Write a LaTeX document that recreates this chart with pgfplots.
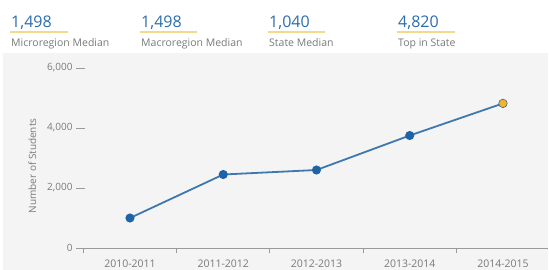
\documentclass[border=0pt]{standalone}
\usepackage{fontspec}
\setmainfont{Open Sans}
\usepackage{pgfplots}
\pgfplotsset{compat=1.18}
\definecolor{panel}{HTML}{F4F4F4}
\definecolor{numblue}{HTML}{2B6DAF}
\definecolor{uline}{HTML}{F3D98C}
\definecolor{txtgray}{HTML}{7A7A7A}
\definecolor{linec}{HTML}{3E78AE}
\definecolor{markc}{HTML}{1F63A6}
\definecolor{orangec}{HTML}{F5B22A}
\definecolor{axgray}{HTML}{9A9A9A}
\begin{document}
\begin{tikzpicture}
\path[use as bounding box, fill=white] (0bp,0bp) rectangle (549bp,-270bp);
\fill[panel] (3bp,-53bp) rectangle (548bp,-270bp);
% header
\foreach \xx/\xe/\num/\lab in {11/68/{1,498}/{Microregion Median},141/197/{1,498}/{Macroregion Median},269/325/{1,040}/{State Median},398/455/{4,820}/{Top in State}}{
  \node[anchor=base west, inner sep=0pt, text=numblue, font=\fontsize{16bp}{18bp}\selectfont] at (\xx bp,-27bp) {\num};
  \draw[uline, line width=1.5bp] (\xx bp-1bp,-32bp) -- (\xe bp,-32bp);
  \node[anchor=base west, inner sep=0pt, text=txtgray, font=\fontsize{10.5bp}{12bp}\selectfont] at (\xx bp,-46bp) {\lab};
}
\begin{axis}[
  at={(76bp,-248bp)}, anchor=south west,
  scale only axis, width=472bp, height=180bp,
  xmin=-0.579, xmax=4.483, ymin=0, ymax=6000,
  axis x line*=bottom, axis y line*=left,
  y axis line style={draw=none},
  x axis line style={axgray, line width=0.8bp, -},
  xtick={0,1,2,3,4},
  xticklabels={2010-2011,2011-2012,2012-2013,2013-2014,2014-2015},
  major x tick style={draw=none},
  minor xtick={-0.5,0.5,1.5,2.5,3.5},
  minor x tick style={axgray, line width=0.8bp},
  minor tick length=5bp,
  xtick align=outside,
  xticklabel style={text=txtgray, font=\fontsize{10.5bp}{12bp}\selectfont, yshift=0.5bp},
  ytick={0,2000,4000,6000},
  major y tick style={axgray, line width=0.8bp},
  major tick length=9bp,
  ytick align=inside,
  yticklabel style={text=txtgray, font=\fontsize{10bp}{12bp}\selectfont},
  /pgf/number format/1000 sep={,},
  /pgf/number format/assume math mode=true,
  ylabel={Number of Students},
  ylabel style={text=txtgray, font=\fontsize{10bp}{12bp}\selectfont, yshift=4bp, xshift=-8bp},
  clip=false,
]
\addplot[linec, line width=1.8bp, mark=*, mark size=3.6bp, mark options={fill=markc, draw=markc}]
  coordinates {(0,1000) (1,2450) (2,2600) (3,3750) (4,4820)};
\addplot[only marks, mark=*, mark size=3.6bp, mark options={fill=orangec, draw=orangec}]
  coordinates {(4,4820)};
\end{axis}
\end{tikzpicture}
\end{document}
